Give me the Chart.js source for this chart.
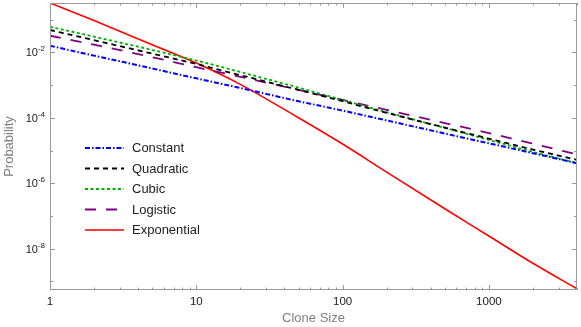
<!DOCTYPE html>
<html lang="en">
<head>
  <meta charset="UTF-8">
  <title>Clone Size Distribution</title>
  <script src="https://cdn.jsdelivr.net/npm/chart.js"></script>
  <style>
    body {
      background-color: #fff;
      margin: 0;
    }
    canvas {
      display: block;
    }
  </style>
</head>
<body>
  <canvas id="cloneChart" width="581" height="327"></canvas>

  <script>
    const cloneSizes = [1, 2, 5, 10, 20, 50, 100, 200, 500, 1000, 2000, 4000];

    const constantP    = [1.58e-2, 7.9e-3, 3.2e-3, 1.6e-3, 8.1e-4, 3.2e-4, 1.66e-4, 8.3e-5, 3.3e-5, 1.66e-5, 8.3e-6, 4.1e-6];
    const quadraticP   = [4.8e-2, 2.34e-2, 9.1e-3, 4.4e-3, 2.0e-3, 7.1e-4, 3.2e-4, 1.41e-4, 5.0e-5, 2.3e-5, 1.07e-5, 5.2e-6];
    const cubicP       = [6.0e-2, 3.0e-2, 1.17e-2, 5.6e-3, 2.5e-3, 8.3e-4, 3.5e-4, 1.48e-4, 4.9e-5, 2.1e-5, 9.1e-6, 4.1e-6];
    const logisticP    = [3.2e-2, 1.7e-2, 7.1e-3, 3.5e-3, 1.78e-3, 7.1e-4, 3.5e-4, 1.74e-4, 6.9e-5, 3.4e-5, 1.62e-5, 7.6e-6];
    const exponentialP = [0.32, 9.3e-2, 1.7e-2, 4.7e-3, 1.05e-3, 1.0e-4, 1.58e-5, 2.2e-6, 1.66e-7, 2.45e-8, 3.6e-9, 6.0e-10];

    const seriesNames = ['Constant', 'Quadratic', 'Cubic', 'Logistic', 'Exponential'];
    const xTickValues = [1, 10, 100, 1000];
    const yExponents = [-9, -8, -7, -6, -5, -4, -3, -2, -1];

    const FONT = "'Liberation Sans', Arial, sans-serif";
    Chart.defaults.font.family = FONT;

    const toPoints = arr => arr.map((y, i) => ({ x: cloneSizes[i], y: y }));

    const styles = [
      { color: '#0000ff', dash: [5, 2, 1.5, 2], width: 2 },
      { color: '#000000', dash: [5, 4], width: 1.8 },
      { color: '#00b000', dash: [3, 2.5], width: 1.8 },
      { color: '#800080', dash: [11, 10], width: 1.8 },
      { color: '#ff0000', dash: [], width: 1.6 }
    ];
    const values = [constantP, quadraticP, cubicP, logisticP, exponentialP];

    const datasets = values.map((arr, i) => ({
      label: seriesNames[i],
      data: toPoints(arr),
      borderColor: styles[i].color,
      borderDash: styles[i].dash,
      borderWidth: styles[i].width,
      pointRadius: 0,
      fill: false,
      cubicInterpolationMode: 'monotone'
    }));

    // frame, inward ticks, y labels with superscripts, legend
    const framePlugin = {
      id: 'frame',
      afterDraw(chart) {
        const ctx = chart.ctx;
        const area = chart.chartArea;
        const xs = chart.scales.x;
        const ys = chart.scales.y;
        ctx.save();
        ctx.strokeStyle = '#999';
        ctx.lineWidth = 1;
        ctx.setLineDash([]);
        ctx.strokeRect(area.left + 0.5, area.top + 0.5, area.right - area.left - 1, area.bottom - area.top - 1);

        ctx.beginPath();
        for (let e = 0; e <= 3; e++) {
          for (let m = 1; m <= 9; m++) {
            const v = m * Math.pow(10, e);
            if (v > xs.max) continue;
            const px = Math.round(xs.getPixelForValue(v)) + 0.5;
            const len = m === 1 ? 5 : 2.5;
            ctx.moveTo(px, area.bottom);
            ctx.lineTo(px, area.bottom - len);
            ctx.moveTo(px, area.top);
            ctx.lineTo(px, area.top + len);
          }
        }
        yExponents.forEach(e => {
          const py = Math.round(ys.getPixelForValue(Math.pow(10, e))) + 0.5;
          const len = e % 2 === 0 ? 5 : 3;
          ctx.moveTo(area.left, py);
          ctx.lineTo(area.left + len, py);
          ctx.moveTo(area.right, py);
          ctx.lineTo(area.right - len, py);
        });
        ctx.stroke();

        // y tick labels: 10 with superscript exponent, every second decade
        ctx.fillStyle = '#222';
        ctx.textBaseline = 'alphabetic';
        yExponents.filter(e => e % 2 === 0).forEach(e => {
          const py = ys.getPixelForValue(Math.pow(10, e));
          const expText = '-' + Math.abs(e);
          ctx.font = '8px ' + FONT;
          const ew = ctx.measureText(expText).width;
          ctx.textAlign = 'right';
          ctx.fillText(expText, 45, py - 1);
          ctx.font = '11px ' + FONT;
          ctx.fillText('10', 45 - ew, py + 4);
        });

        // legend
        const lx = 85, lw = 39, ty = 148, step = 20.5;
        chart.data.datasets.forEach((ds, i) => {
          const y = ty + i * step;
          ctx.strokeStyle = ds.borderColor;
          ctx.lineWidth = ds.borderWidth;
          ctx.setLineDash(ds.borderDash);
          ctx.beginPath();
          ctx.moveTo(lx, y);
          ctx.lineTo(lx + lw, y);
          ctx.stroke();
          ctx.setLineDash([]);
          ctx.fillStyle = '#222';
          ctx.font = '13px ' + FONT;
          ctx.textAlign = 'left';
          ctx.textBaseline = 'middle';
          ctx.fillText(ds.label, 132, y + 0.5);
        });
        ctx.restore();
      }
    };

    const ctx = document.getElementById('cloneChart').getContext('2d');
    new Chart(ctx, {
      type: 'line',
      data: { datasets: datasets },
      options: {
        responsive: false,
        animation: false,
        layout: { padding: { top: 3, right: 4, left: 0, bottom: 0 } },
        plugins: {
          legend: { display: false },
          tooltip: { enabled: false }
        },
        scales: {
          x: {
            type: 'logarithmic',
            min: 1,
            max: 4000,
            grid: { display: false, drawTicks: false },
            border: { display: false },
            afterBuildTicks: scale => {
              scale.ticks = xTickValues.map(v => ({ value: v }));
            },
            afterFit: scale => { scale.height = 37; },
            ticks: {
              color: '#222',
              font: { size: 11.5 },
              padding: 5,
              maxRotation: 0,
              autoSkip: false,
              callback: v => String(v)
            },
            title: {
              display: true,
              text: 'Clone Size',
              color: '#808080',
              font: { size: 13 },
              padding: { top: 0, bottom: 1 }
            }
          },
          y: {
            type: 'logarithmic',
            min: 5.5e-10,
            max: 0.32,
            grid: { display: false, drawTicks: false },
            border: { display: false },
            afterBuildTicks: scale => {
              scale.ticks = yExponents.map(e => ({ value: Math.pow(10, e) }));
            },
            afterFit: scale => { scale.width = 50; },
            ticks: { display: false },
            title: {
              display: true,
              text: 'Probability',
              color: '#808080',
              font: { size: 13 },
              padding: { top: 2, bottom: 0 }
            }
          }
        }
      },
      plugins: [framePlugin]
    });
  </script>
</body>
</html>
